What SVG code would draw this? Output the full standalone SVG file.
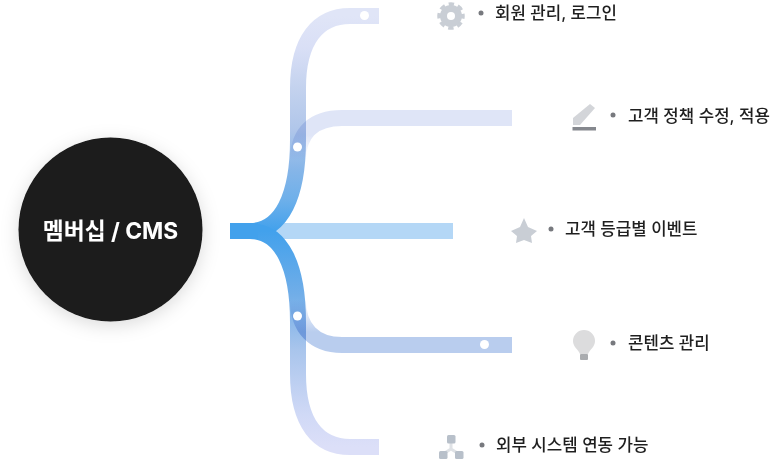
<svg xmlns="http://www.w3.org/2000/svg" width="772" height="463" viewBox="0 0 772 463">
<style>
.l{font-family:Inter,"Noto Sans CJK KR","Noto Sans",sans-serif;font-size:16.800px;font-weight:500;fill:#1f1f1f;dominant-baseline:central}
.b{fill:#77797e}
.c{fill:none;stroke-width:16}
.m{mix-blend-mode:multiply}
.d{fill:#fff}
.i{fill:#c9ced5}
</style>
<defs>
<linearGradient id="gt" gradientUnits="userSpaceOnUse" x1="0" y1="231" x2="0" y2="16"><stop offset="0" stop-color="#42a1ec"/><stop offset=".15" stop-color="#6fb0ea"/><stop offset=".28" stop-color="#85b5e8"/><stop offset=".47" stop-color="#b0c6ea"/><stop offset=".66" stop-color="#c3d2ee"/><stop offset=".85" stop-color="#d9dff6"/><stop offset="1" stop-color="#e0e5f7"/></linearGradient>
<linearGradient id="gb" gradientUnits="userSpaceOnUse" x1="0" y1="231" x2="0" y2="447"><stop offset="0" stop-color="#42a1ec"/><stop offset=".3" stop-color="#72aee8"/><stop offset=".55" stop-color="#a9c5ec"/><stop offset=".85" stop-color="#d0d9f6"/><stop offset="1" stop-color="#dcdff8"/></linearGradient>
<linearGradient id="g2" gradientUnits="userSpaceOnUse" x1="0" y1="160" x2="0" y2="135"><stop offset="0" stop-color="#dfe5f7" stop-opacity="0"/><stop offset="1" stop-color="#dfe5f7"/></linearGradient>
<linearGradient id="g4" gradientUnits="userSpaceOnUse" x1="0" y1="300" x2="0" y2="332"><stop offset="0" stop-color="#b9cdee" stop-opacity="0"/><stop offset="1" stop-color="#b9cdee"/></linearGradient>
<filter id="s" x="-30%" y="-30%" width="160%" height="160%"><feDropShadow dx="0" dy="4" stdDeviation="9" flood-color="#000" flood-opacity=".14"/></filter>
</defs>
<g id="connectors">
<path class="c" stroke="#b4d7f6" d="M230 231H453"/>
<path class="c" stroke="url(#gt)" d="M230 231H250C282 231 298 195 298 140V88C298 40 318 16 350 16H379"/>
<path class="c m" stroke="url(#g2)" d="M298 160C298 132 314 118 342 118H512"/>
<path class="c" stroke="url(#gb)" d="M230 231H250C282 231 298 267 298 322V374C298 423 318 447 350 447H379"/>
<path class="c m" stroke="url(#g4)" d="M298 300C298 328 314 345 342 345H512"/>
<path class="c" stroke="#42a1ec" d="M230 231H258"/>
<circle class="d" cx="364.500" cy="15.500" r="4.500"/>
<circle class="d" cx="297.500" cy="147" r="4.500"/>
<circle class="d" cx="297.500" cy="316" r="4.500"/>
<circle class="d" cx="484.500" cy="344.500" r="4.500"/>
</g>
<g id="hub">
<circle cx="110.500" cy="229.500" r="92" fill="#1a1a1a" filter="url(#s)"/>
<text x="110.500" y="230" text-anchor="middle" dominant-baseline="central" style="font-family:Inter,'Noto Sans CJK KR',sans-serif;font-size:22.800px;font-weight:700;fill:#fff">멤버십 / CMS</text>
</g>
<g id="n1">
<circle class="i" cx="451" cy="16" r="11"/>
<circle cx="451" cy="16" r="12" fill="none" stroke="#c9ced5" stroke-width="3.500" stroke-dasharray="5.400 4.025" stroke-dashoffset="2.700"/>
<circle class="d" cx="451" cy="16" r="4"/>
<circle class="b" cx="481" cy="13" r="2.500"/>
<text class="l" x="495" y="12.500">회원 관리, 로그인</text>
</g>
<g id="n2">
<polygon points="573,125 573,118 590,104 595,108 580,125" fill="#d3d5d9"/>
<rect x="572.500" y="127" width="23.500" height="3.500" fill="#85888e"/>
<circle class="b" cx="613" cy="115" r="2.500"/>
<text class="l" x="628" y="115.500">고객 정책 수정, 적용</text>
</g>
<g id="n3">
<polygon class="i" points="524,218 528,227 537,231 531,236 532,243 524,240 516,243 517,236 511,231 520,227"/>
<circle class="b" cx="551" cy="229" r="2.500"/>
<text class="l" x="565" y="228.500">고객 등급별 이벤트</text>
</g>
<g id="n4">
<path d="M573 341A11 11 0 1 1 595 341C595 347 590 349 588 354H580C578 349 573 347 573 341Z" fill="#dcdcdd"/>
<rect x="580" y="354" width="8" height="6" rx="1" fill="#aaacaf"/>
<circle class="b" cx="613" cy="343" r="2.500"/>
<text class="l" x="628" y="342.500">콘텐츠 관리</text>
</g>
<g id="n5">
<path d="M451 443V449L443 454M451 449L459 454" fill="none" stroke="#dfe2e6" stroke-width="3"/>
<rect x="447" y="435" width="8.500" height="8.500" rx="1.500" fill="#b8c0ca"/>
<rect x="439" y="451" width="8.500" height="8" rx="1.500" fill="#b8c0ca"/>
<rect x="455" y="451" width="8.500" height="8" rx="1.500" fill="#b8c0ca"/>
<circle class="b" cx="482" cy="445" r="2.500"/>
<text class="l" x="496" y="444.500">외부 시스템 연동 가능</text>
</g>
</svg>
